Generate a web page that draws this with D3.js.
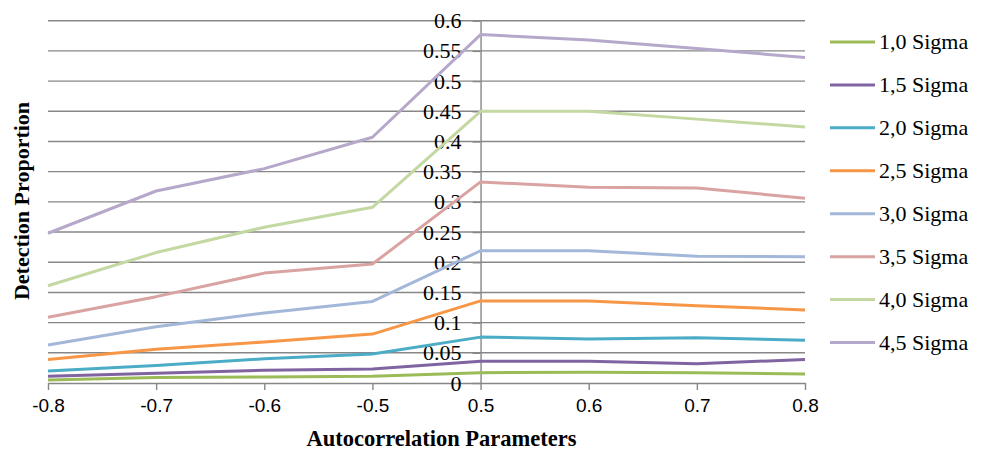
<!DOCTYPE html>
<html>
<head>
<meta charset="utf-8">
<script src="https://cdn.jsdelivr.net/npm/d3@7"></script>
<style>
  html, body { margin: 0; padding: 0; background: #fff; }
  svg { display: block; }
</style>
</head>
<body>
<svg id="chart" width="984" height="450"></svg>
<script>
const categories = ["-0.8", "-0.7", "-0.6", "-0.5", "0.5", "0.6", "0.7", "0.8"];
const seriesNames = ["1,0 Sigma", "1,5 Sigma", "2,0 Sigma", "2,5 Sigma", "3,0 Sigma", "3,5 Sigma", "4,0 Sigma", "4,5 Sigma"];
const sigma10 = [0.005, 0.009, 0.010, 0.011, 0.017, 0.018, 0.017, 0.015];
const sigma15 = [0.011, 0.016, 0.021, 0.023, 0.036, 0.036, 0.032, 0.039];
const sigma20 = [0.020, 0.029, 0.040, 0.048, 0.076, 0.073, 0.075, 0.071];
const sigma25 = [0.039, 0.056, 0.068, 0.081, 0.136, 0.136, 0.128, 0.121];
const sigma30 = [0.063, 0.093, 0.116, 0.135, 0.219, 0.219, 0.210, 0.209];
const sigma35 = [0.109, 0.143, 0.182, 0.197, 0.333, 0.324, 0.323, 0.306];
const sigma40 = [0.161, 0.216, 0.258, 0.291, 0.450, 0.450, 0.437, 0.424];
const sigma45 = [0.248, 0.318, 0.355, 0.407, 0.577, 0.568, 0.554, 0.539];
const yTicks = [0, 0.05, 0.1, 0.15, 0.2, 0.25, 0.3, 0.35, 0.4, 0.45, 0.5, 0.55, 0.6];
const yTickLabels = ["0", "0.05", "0.1", "0.15", "0.2", "0.25", "0.3", "0.35", "0.4", "0.45", "0.5", "0.55", "0.6"];
const colors = ["#9BBB59", "#8064A2", "#4BACC6", "#F79646", "#A3B7D9", "#D9A3A1", "#C4D8A2", "#B6A8CA"];

const seriesValues = [sigma10, sigma15, sigma20, sigma25, sigma30, sigma35, sigma40, sigma45];

const svg = d3.select("#chart");
const plotLeft = 48, plotRight = 805, plotTop = 20.7, plotBottom = 383;

const x = d3.scalePoint().domain(categories).range([plotLeft, plotRight]);
const y = d3.scaleLinear().domain([0, 0.6]).range([plotBottom, plotTop]);

const gridColor = "#878787";
const serif = "'Liberation Serif', 'Times New Roman', Times, serif";

// gridlines
svg.append("g")
  .selectAll("line")
  .data(yTicks.slice(1))
  .join("line")
  .attr("x1", plotLeft).attr("x2", plotRight)
  .attr("y1", d => y(d)).attr("y2", d => y(d))
  .attr("stroke", gridColor).attr("stroke-width", 1.4);

// x axis
const xAxis = d3.axisBottom(x).tickSizeInner(7).tickSizeOuter(0).tickPadding(9);
const gx = svg.append("g").attr("transform", `translate(0,${plotBottom})`).call(xAxis);
gx.select(".domain").attr("stroke", gridColor).attr("stroke-width", 1.4);
gx.selectAll(".tick line").attr("stroke", gridColor).attr("stroke-width", 1.4);
gx.selectAll(".tick text")
  .attr("fill", "#000")
  .style("font-family", "'Liberation Sans', Arial, sans-serif")
  .style("font-size", "19px");

// y axis at category 0.5
const yAxisX = x("0.5");
const yAxis = d3.axisLeft(y).tickValues(yTicks)
  .tickFormat((d, i) => yTickLabels[i])
  .tickSizeInner(8).tickSizeOuter(0).tickPadding(11);
const gy = svg.append("g").attr("transform", `translate(${yAxisX},0)`).call(yAxis);
gy.select(".domain").attr("stroke", gridColor).attr("stroke-width", 1.4);
gy.selectAll(".tick line").attr("stroke", gridColor).attr("stroke-width", 1.4);
gy.selectAll(".tick text")
  .attr("fill", "#000")
  .style("font-family", serif)
  .style("font-size", "22px");

// series lines
const line = d3.line()
  .x((d, i) => x(categories[i]))
  .y(d => y(d));

svg.append("g")
  .selectAll("path")
  .data(seriesValues)
  .join("path")
  .attr("d", d => line(d))
  .attr("fill", "none")
  .attr("stroke", (d, i) => colors[i])
  .attr("stroke-width", 3)
  .attr("stroke-linejoin", "round");

// axis titles
svg.append("text")
  .attr("x", 441.5).attr("y", 446)
  .attr("text-anchor", "middle")
  .style("font-family", serif)
  .style("font-weight", "bold")
  .style("font-size", "22.5px")
  .text("Autocorrelation Parameters");

svg.append("text")
  .attr("transform", "translate(29,201) rotate(-90)")
  .attr("text-anchor", "middle")
  .style("font-family", serif)
  .style("font-weight", "bold")
  .style("font-size", "22px")
  .text("Detection Proportion");

// legend
const legendY = d3.scalePoint().domain(seriesNames).range([42, 342.5]);
const lg = svg.append("g")
  .selectAll("g")
  .data(seriesNames)
  .join("g")
  .attr("transform", d => `translate(0,${legendY(d)})`);
lg.append("line")
  .attr("x1", 830).attr("x2", 875)
  .attr("y1", 0).attr("y2", 0)
  .attr("stroke", (d, i) => colors[i])
  .attr("stroke-width", 3);
lg.append("text")
  .attr("x", 879).attr("y", 0).attr("dy", "0.34em")
  .style("font-family", serif)
  .style("font-size", "22px")
  .attr("fill", "#000")
  .text(d => d);
</script>
</body>
</html>
